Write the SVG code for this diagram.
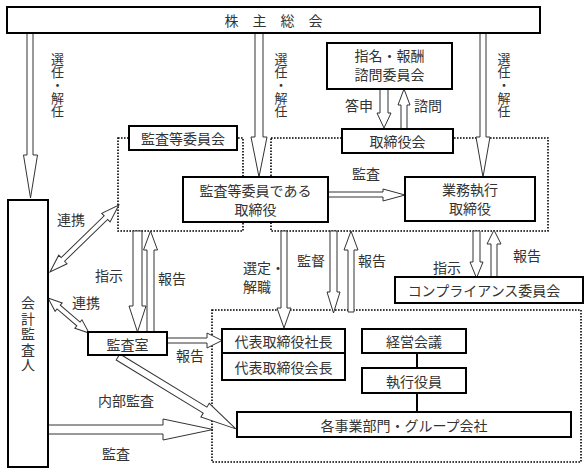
<svg xmlns="http://www.w3.org/2000/svg" width="586" height="473" viewBox="0 0 586 473">
<style>
text{font-family:"Noto Sans CJK JP","Liberation Sans",sans-serif;font-size:14px;fill:#333;dominant-baseline:central}
.c{text-anchor:middle}
.v{writing-mode:vertical-rl;text-anchor:start;font-size:13px}
.v2{writing-mode:vertical-rl;text-anchor:start;letter-spacing:1.5px}
.box{fill:#fff;stroke:#000;stroke-width:2}
.dot{fill:none;stroke:#000;stroke-width:1.6;stroke-dasharray:1.6 1.4}
.arr{fill:#fff;stroke:#333;stroke-width:1}
.ln{stroke:#000;stroke-width:2}
</style>
<rect width="586" height="473" fill="#fff"/>
<g id="groups">
<rect class="dot" x="118" y="138" width="125" height="93"/>
<rect class="dot" x="271" y="138" width="277" height="93"/>
<rect class="dot" x="212" y="310" width="369" height="152"/>
</g>
<g id="connectors">
<path class="arr" d="M27,33 V155 H23.5 L30.5,198 L37.5,155 H33 V33 Z"/>
<path class="arr" d="M255,33 V137 H251 L259,177 L267,137 H263 V33 Z"/>
<path class="arr" d="M480,33 V137 H476 L483,177 L490,137 H486 V33 Z"/>
<path class="arr" d="M380,89 V113 H377 L384,128 L391,113 H388 V89 Z"/>
<path class="arr" d="M401,129 V105 H398 L404,89 L410,105 H407 V129 Z"/>
<path class="arr" d="M327,192 H383 V189 L405,195 L383,201 V197 H327 Z"/>
<path class="arr" d="M281,231 V308 H277 L284,328 L291,308 H287 V231 Z"/>
<path class="arr" d="M330,231 V292 H327 L333.5,313 L340,292 H337 V231 Z"/>
<path class="arr" d="M348,312 V250 H344 L351,231 L358,250 H354 V312 Z"/>
<path class="arr" d="M133,231 V306 H129 L137.5,332 L146,306 H142 V231 Z"/>
<path class="arr" d="M147,332 V250 H143.5 L150.5,231 L157.5,250 H154 V332 Z"/>
<path class="arr" d="M473,231 V262 H470 L476.5,278 L483,262 H480 V231 Z"/>
<path class="arr" d="M491,277 V244 H487 L494,230 L501,244 H497 V277 Z"/>
<path class="arr" d="M167,338 H207 V333 L222,340.5 L207,348 V343 H167 Z"/>
<path class="arr" d="M48,425 H163 V419 L213,429.5 L163,440 V434 H48 Z"/>
<path class="arr" transform="translate(118,357) rotate(31.4)" d="M0,-3.5 H102 V-8 L138,0 L102,8 V3.5 H0 Z"/>
<path class="arr" transform="translate(50,272) rotate(-44.2)" d="M0,0 L18,-6 V-2.5 H78 V-6 L96,0 L78,6 V2.5 H18 V6 Z"/>
<path class="arr" transform="translate(48,298) rotate(40.5)" d="M0,0 L14,-5.5 V-2.5 H40 V-5.5 L54,0 L40,5.5 V2.5 H14 V5.5 Z"/>
<line class="ln" x1="417" y1="353" x2="417" y2="368"/>
<line class="ln" x1="417" y1="393" x2="417" y2="412"/>
</g>
<g id="labels">
<text class="v" x="57.5" y="53">選任・解任</text>
<text class="v" x="281" y="53">選任・解任</text>
<text class="v" x="504" y="53">選任・解任</text>
<text class="c" x="359" y="105">答申</text>
<text class="c" x="428" y="105">諮問</text>
<text class="c" x="366" y="173">監査</text>
<text class="c" x="71" y="219">連携</text>
<text class="c" x="86" y="302">連携</text>
<text class="c" x="109" y="275">指示</text>
<text class="c" x="172" y="278">報告</text>
<text><tspan x="243" y="267">選定・</tspan><tspan x="243" y="286">解職</tspan></text>
<text class="c" x="311" y="260">監督</text>
<text class="c" x="372" y="260">報告</text>
<text class="c" x="447" y="267">指示</text>
<text class="c" x="527" y="255">報告</text>
<text class="c" x="190" y="355">報告</text>
<text class="c" x="126" y="400">内部監査</text>
<text class="c" x="116" y="453">監査</text>
</g>
<g id="n-kabunushi"><rect class="box" x="7" y="7" width="533" height="26"/><text class="c" x="273.5" y="20">株　主　総　会</text></g>
<g id="n-shimei"><rect class="box" x="327" y="43" width="125" height="46"/><text class="c"><tspan x="389.5" y="55">指名・報酬</tspan><tspan x="389.5" y="74">諮問委員会</tspan></text></g>
<g id="n-torishimariyakukai"><rect class="box" x="342" y="129" width="111" height="24"/><text class="c" x="397.5" y="141">取締役会</text></g>
<g id="n-kansatoiinkai"><rect class="box" x="129" y="126" width="108" height="24"/><text class="c" x="183" y="138">監査等委員会</text></g>
<g id="n-kansatoiin-torishimariyaku"><rect class="box" x="183" y="177" width="145" height="45"/><text class="c"><tspan x="255.5" y="190">監査等委員である</tspan><tspan x="255.5" y="209">取締役</tspan></text></g>
<g id="n-gyomu"><rect class="box" x="405" y="177" width="130" height="44"/><text class="c"><tspan x="470" y="189">業務執行</tspan><tspan x="470" y="208">取締役</tspan></text></g>
<g id="n-compliance"><rect class="box" x="395" y="277" width="188" height="26"/><text class="c" x="484" y="290">コンプライアンス委員会</text></g>
<g id="n-kaikei"><rect class="box" x="8" y="200" width="40" height="267"/><text class="v2" x="28" y="296">会計監査人</text></g>
<g id="n-kansashitsu"><rect class="box" x="88" y="332" width="79" height="23"/><text class="c" x="127.5" y="343.5">監査室</text></g>
<g id="n-shacho"><rect class="box" x="222" y="329" width="123" height="24"/><text class="c" x="283.5" y="341">代表取締役社長</text></g>
<g id="n-kaicho"><rect class="box" x="222" y="353" width="123" height="27"/><text class="c" x="283.5" y="366.5">代表取締役会長</text></g>
<g id="n-keiei"><rect class="box" x="362" y="329" width="104" height="24"/><text class="c" x="414" y="341">経営会議</text></g>
<g id="n-shikko"><rect class="box" x="362" y="368" width="104" height="25"/><text class="c" x="414" y="380.5">執行役員</text></g>
<g id="n-jigyo"><rect class="box" x="237" y="412" width="334" height="25"/><text class="c" x="404" y="424.5">各事業部門・グループ会社</text></g>
</svg>
